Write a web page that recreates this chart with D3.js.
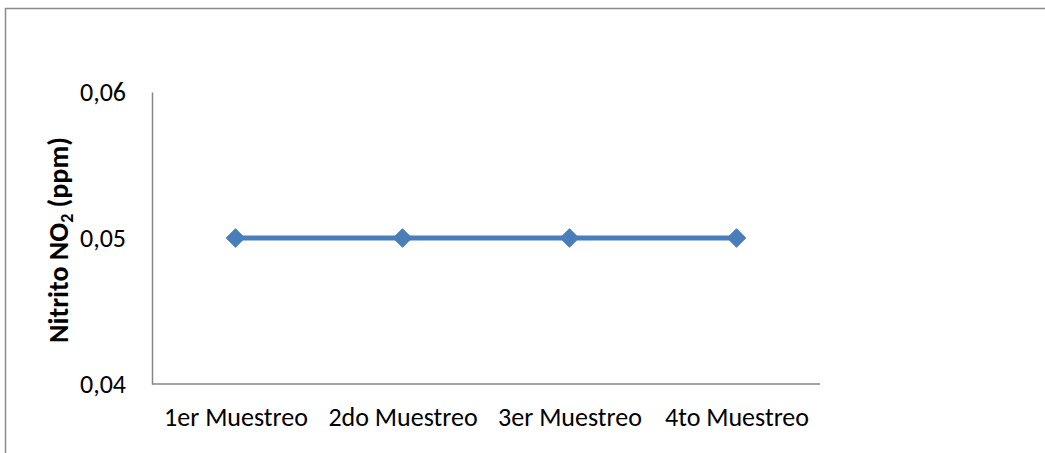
<!DOCTYPE html>
<html>
<head>
<meta charset="utf-8">
<script src="https://cdn.jsdelivr.net/npm/d3@7"></script>
<style>
  html, body { margin: 0; padding: 0; background: #fff; }
  svg { display: block; }
  text { font-family: Carlito, Calibri, Lato, "Open Sans", sans-serif; fill: #000; }
</style>
</head>
<body>
<svg id="chart" width="1045" height="453"></svg>
<script>
// Nitrite concentration per sampling round
const categories = ["1er Muestreo", "2do Muestreo", "3er Muestreo", "4to Muestreo"];
const nitrito = [0.05, 0.05, 0.05, 0.05];
const yTicks = [0.04, 0.05, 0.06];
const yTickLabels = ["0,04", "0,05", "0,06"];

const svg = d3.select("#chart");
const W = 1045, H = 453;
const plot = { left: 152, right: 820, top: 92, bottom: 384 };
const labelFont = "Carlito, Calibri, Lato, sans-serif";

// outer chart frame (runs off the right and bottom edges)
svg.append("rect")
  .attr("x", 5.5).attr("y", 8.5)
  .attr("width", W + 20).attr("height", H + 20)
  .attr("fill", "#fff")
  .attr("stroke", "#8a8a8a")
  .attr("stroke-width", 1.5);

const x = d3.scalePoint().domain(categories).range([plot.left, plot.right]).padding(0.5);
const y = d3.scaleLinear().domain([0.04, 0.06]).range([plot.bottom, plot.top]);

// axes
const yAxis = d3.axisLeft(y).tickValues(yTicks)
  .tickFormat((d, i) => yTickLabels[i]).tickSize(0).tickPadding(26);
const gy = svg.append("g").attr("transform", `translate(${plot.left},0)`).call(yAxis);
gy.select(".domain").attr("stroke", "#868686").attr("stroke-width", 1.5);
gy.selectAll("text").attr("font-size", 26).attr("fill", "#000")
  .style("font-family", labelFont);

const xAxis = d3.axisBottom(x).tickSize(0).tickPadding(24);
const gx = svg.append("g").attr("transform", `translate(0,${plot.bottom})`).call(xAxis);
gx.select(".domain").attr("d", `M${plot.left},0H${plot.right}`)
  .attr("stroke", "#868686").attr("stroke-width", 1.5);
gx.selectAll("text").attr("font-size", 26).attr("fill", "#000")
  .style("font-family", labelFont);

// y axis title
const title = svg.append("text")
  .attr("transform", "translate(68,240) rotate(-90)")
  .attr("text-anchor", "middle")
  .attr("font-size", 28)
  .attr("font-weight", "bold");
title.append("tspan").text("Nitrito NO");
title.append("tspan").attr("font-size", 18).attr("dy", 5).text("2");
title.append("tspan").attr("dy", -5).text(" (ppm)");

// series line
const line = d3.line().x((d, i) => x(categories[i])).y(d => y(d));
svg.append("path")
  .datum(nitrito)
  .attr("d", line)
  .attr("fill", "none")
  .attr("stroke", "#4a7ebb")
  .attr("stroke-width", 5);

// diamond markers
const diamond = d3.symbol().type(d3.symbolDiamond2).size(220);
svg.selectAll(".marker")
  .data(nitrito)
  .join("path")
  .attr("class", "marker")
  .attr("transform", (d, i) => `translate(${x(categories[i])},${y(d)})`)
  .attr("d", diamond)
  .attr("fill", "#4a7ebb")
  .attr("stroke", "#4a7ebb")
  .attr("stroke-width", 1);
</script>
</body>
</html>
